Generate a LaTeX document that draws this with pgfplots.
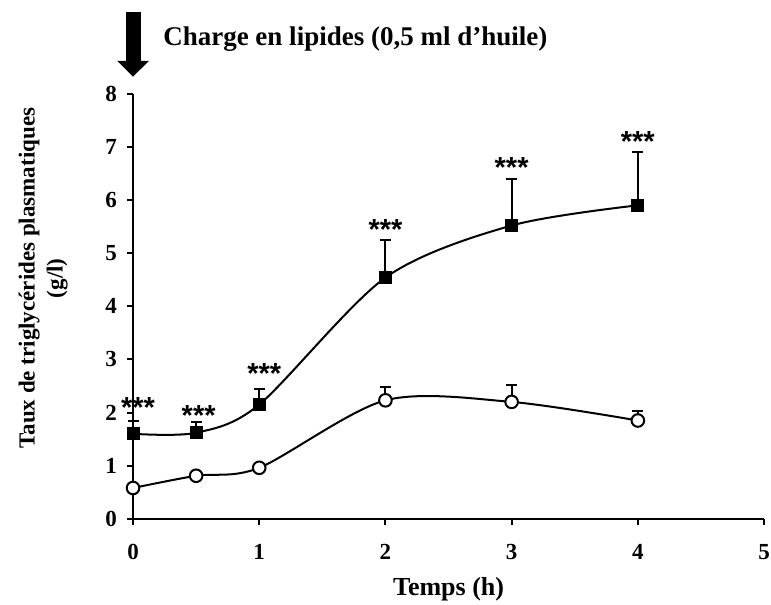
\documentclass[border=0pt]{standalone}
\usepackage{fontspec}
\setmainfont{Liberation Serif}
\newfontfamily\starfont{Liberation Sans}
\usepackage{pgfplots}
\pgfplotsset{compat=1.18}
\usetikzlibrary{arrows.meta}

\begin{document}
\begin{tikzpicture}
\begin{axis}[
  scale only axis, width=631pt, height=425pt,
  xmin=0, xmax=5, ymin=0, ymax=8,
  clip=false,
  axis x line=bottom, axis y line=left,
  axis line style={-, line width=2.2pt},
  xtick={0,1,2,3,4,5}, ytick={0,1,2,3,4,5,6,7,8},
  tick align=outside, major tick length=6pt,
  tick style={line width=2pt, black},
  /pgf/number format/assume math mode=true,
  ticklabel style={font=\fontsize{23}{26}\selectfont\bfseries},
  xticklabel style={anchor=north, inner sep=0pt, yshift=-19pt},
  yticklabel style={anchor=east, inner sep=0pt, xshift=-10pt},
  xlabel={Temps (h)},
  xlabel style={at={(axis description cs:0.5,0)}, anchor=north, inner sep=0pt, yshift=-58pt, font=\fontsize{26}{30}\selectfont\bfseries},
  ylabel={Taux de triglycérides plasmatiques\\(g/l)},
  ylabel style={at={(axis description cs:-0.103,0.566)}, anchor=south, inner sep=0pt, align=center, font=\fontsize{23}{28}\selectfont\bfseries},
  error bars/y dir=plus, error bars/y explicit,
  error bars/error bar style={line width=2pt, black},
  error bars/error mark options={rotate=90, mark size=5.5pt, line width=2pt, black},
]
% invisible frame for the page size
\path (axis cs:-1.054,9.765) rectangle (axis cs:5.055,-1.615);

% control group (open circles)
\addplot[black, line width=2pt, smooth, tension=0.5, mark=*, mark size=6.3pt,
  mark options={fill=white, draw=black, line width=2pt}]
  coordinates {
  (0,0.58) +- (0,0.05)
  (0.5,0.81) +- (0,0.05)
  (1,0.96) +- (0,0.05)
  (2,2.23) +- (0,0.25)
  (3,2.20) +- (0,0.32)
  (4,1.85) +- (0,0.18)
  };

% lipid group (filled squares)
\addplot[black, line width=2pt, smooth, tension=0.5, mark=square*, mark size=6pt,
  mark options={fill=black, draw=black, line width=1pt}]
  coordinates {
  (0,1.60) +- (0,0.25)
  (0.5,1.62) +- (0,0.21)
  (1,2.15) +- (0,0.30)
  (2,4.54) +- (0,0.70)
  (3,5.52) +- (0,0.87)
  (4,5.90) +- (0,1.01)
  };

% significance stars
\addplot[draw=none, mark=none, forget plot,
  nodes near coords={***},
  nodes near coords style={anchor=center, inner sep=0pt, font=\starfont\bfseries\fontsize{29}{32}\selectfont}]
  coordinates {
  (0.04,2.09) (0.52,1.94) (1.04,2.74) (2.0,5.45) (3.0,6.61) (4.0,7.11)
  };

% arrow and caption
\draw[line width=15pt, -{Triangle[width=31pt,length=16pt]}] (axis cs:0,9.54) -- (axis cs:0,8.32);
\node[anchor=west, inner sep=0pt, font=\fontsize{27}{30}\selectfont\bfseries]
  at (axis cs:0.238,9.03) {Charge en lipides (0,5 ml d’huile)};
\end{axis}
\end{tikzpicture}
\end{document}
